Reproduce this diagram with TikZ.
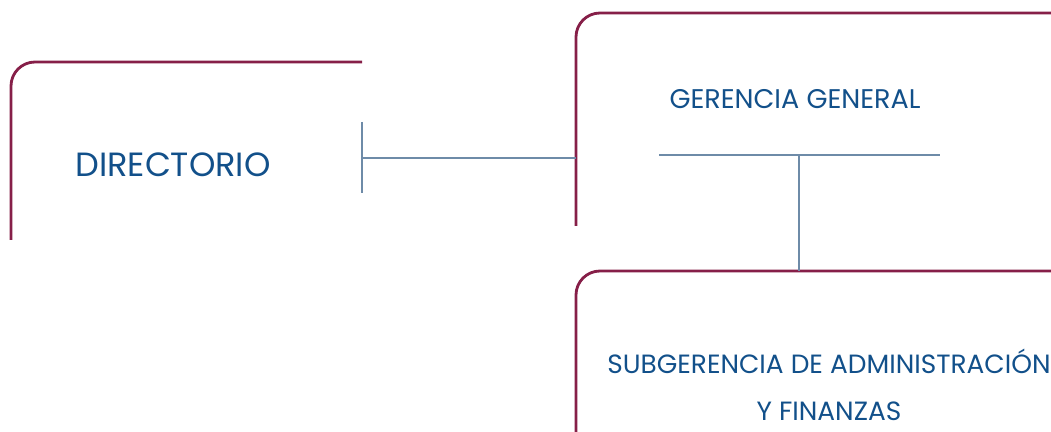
\documentclass[tikz,border=0pt]{standalone}
\usepackage{fontspec}
\setmainfont{Poppins}
\usetikzlibrary{positioning}
\definecolor{granate}{HTML}{861F48}
\definecolor{azul}{HTML}{12508A}
\definecolor{gris}{HTML}{6E8BA8}

\begin{document}
\begin{tikzpicture}[x=0.5pt, y=-0.5pt, caja/.style = {draw=granate, line width=1.4pt, rounded corners=12pt}, linea/.style = {draw=gris, line width=0.7pt}, texto/.style = {text=azul, inner sep=0pt, align=center}]
\useasboundingbox (0,0) rectangle (1051,432);
\clip (0,0) rectangle (1051,432);

\draw[caja] (11,240) |- (362,62);
\draw[caja] (576,226) |- (1060,13);
\draw[caja] (576,440) |- (1060,271);

\node[texto, font=\fontsize{16.8}{18}\selectfont] (dir) at (173,165) {DIRECTORIO};
\node[texto, font=\fontsize{13.5}{15}\selectfont] (ger) at (795,99) {GERENCIA GENERAL};
\node[texto, font=\fontsize{13.2}{23.5}\selectfont] (sub) at (829,385) {SUBGERENCIA DE ADMINISTRACIÓN\\Y FINANZAS};

\coordinate (b1) at (362,122);
\coordinate (b2) at (362,193);
\coordinate (dirr) at (362,158);
\coordinate (gerl) at (576,158);
\coordinate (t1) at (659,155);
\coordinate (t2) at (940,155);
\coordinate (tm) at (799,155);
\coordinate (subt) at (799,271);

\draw[linea] (b1) -- (b2);
\draw[linea] (dirr) -- (gerl);
\draw[linea] (t1) -- (t2);
\draw[linea] (tm) -- (subt);

\end{tikzpicture}
\end{document}
